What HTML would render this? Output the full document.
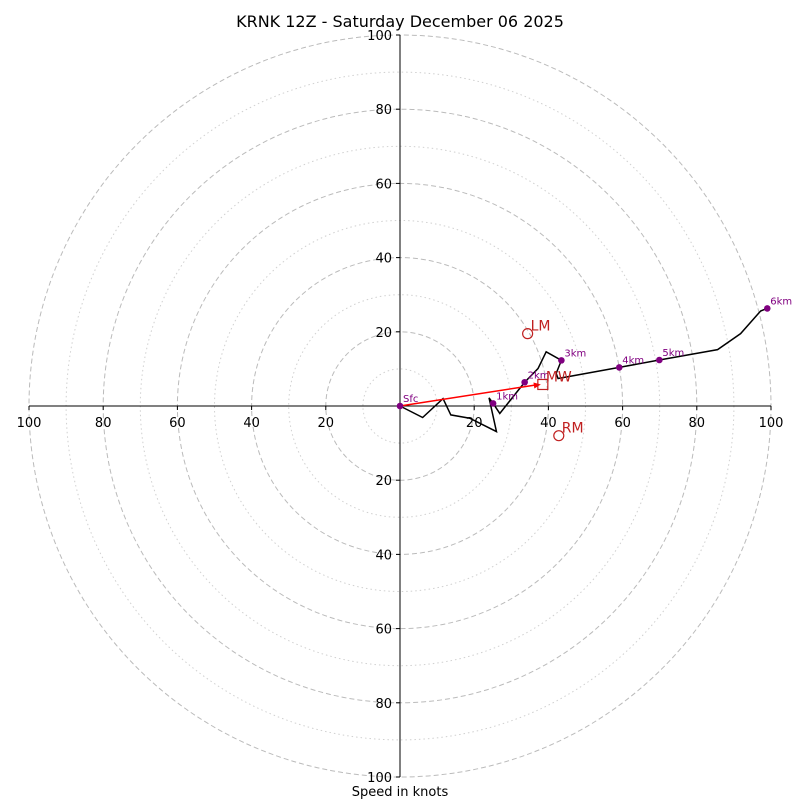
<!DOCTYPE html>
<html><head><meta charset="utf-8"><style>
body{margin:0;background:#fff;}
svg{display:block;font-family:"DejaVu Sans","Liberation Sans",sans-serif;}
</style></head><body>
<svg id="chart" width="800" height="800" viewBox="0 0 800 800" xmlns="http://www.w3.org/2000/svg">
<rect width="800" height="800" fill="#fff"/>
<text x="400" y="27" text-anchor="middle" font-size="16">KRNK 12Z - Saturday December 06 2025</text>
<text x="400" y="796" text-anchor="middle" font-size="13">Speed in knots</text>
<g id="rings"></g><g id="axes"></g><g id="trace"></g>
</svg>
<script>
const ringVals=[10,20,30,40,50,60,70,80,90,100];
const tickVals=[20,40,60,80,100];
const traceU=[0,6.1,11.6,13.7,18.8,26.0,24.0,25.1,26.9,33.6,37.2,39.4,43.5,42.1,42.6,59.1,69.9,85.6,91.8,97.2,99.0];
const traceV=[0,-3.1,2.0,-2.4,-3.3,-6.9,2.2,0.7,-2.0,6.4,10.1,14.6,12.3,8.8,7.4,10.4,12.4,15.2,19.5,25.6,26.3];
const markLabels=["Sfc","1km","2km","3km","4km","5km","6km"];
const markU=[0,25.1,33.6,43.5,59.1,69.9,99.0];
const markV=[0,0.7,6.4,12.3,10.4,12.4,26.3];
const motionLabels=["LM","RM","MW"];
const motionU=[34.4,42.8,38.5];
const motionV=[19.5,-8.0,5.8];
const CX=400,CY=406,R=371,MAX=100;
const sx=u=>CX+u/MAX*R, sy=v=>CY-v/MAX*R, sr=k=>k/MAX*R;
const NS="http://www.w3.org/2000/svg";
function mk(t,a,p){const e=document.createElementNS(NS,t);for(const k in a)e.setAttribute(k,a[k]);p.appendChild(e);return e;}
const rings=document.getElementById('rings');
ringVals.forEach(k=>{
 const c=mk('circle',{cx:CX,cy:CY,r:sr(k),fill:'none',stroke:k%20===0?'#bbb':'#d0d0d0','stroke-width':1,'stroke-dasharray':k%20===0?'5,3':'1.5,3'},rings);
 
 
});
const ax=document.getElementById('axes');
let l=mk('line',{x1:sx(-100),y1:CY,x2:sx(100),y2:CY,stroke:'#000','stroke-width':1},ax);


l=mk('line',{x1:CX,y1:sy(100),x2:CX,y2:sy(-100),stroke:'#000','stroke-width':1},ax);


tickVals.forEach(k=>{
 [-1,1].forEach(s=>{
  const x=sx(s*k);
  mk('line',{x1:x,y1:CY,x2:x,y2:CY+4,stroke:'#000'},ax);
  const t=mk('text',{x:x,y:CY+21,'text-anchor':'middle','font-size':13},ax);t.textContent=k;
  
  
  const y=sy(s*k);
  mk('line',{x1:CX-4,y1:y,x2:CX,y2:y,stroke:'#000'},ax);
  const t2=mk('text',{x:CX-8,y:y+5,'text-anchor':'end','font-size':13},ax);t2.textContent=k;
  
  
 });
});
const tr=document.getElementById('trace');
const pts=traceU.map((u,i)=>sx(u)+','+sy(traceV[i])).join(' ');
const pl=mk('polyline',{points:pts,fill:'none',stroke:'#000','stroke-width':1.5,'stroke-linejoin':'miter'},tr);


const ar=mk('line',{x1:sx(0),y1:sy(0),x2:sx(motionU[2])-4,y2:sy(motionV[2]),stroke:'#f00','stroke-width':1.5},tr);


const ang=Math.atan2(sy(motionV[2])-sy(0),sx(motionU[2])-sx(0));
const hx=sx(motionU[2])-2,hy=sy(motionV[2]);
const ah=mk('polygon',{points:`${hx},${hy} ${hx-7*Math.cos(ang)+3*Math.sin(ang)},${hy-7*Math.sin(ang)-3*Math.cos(ang)} ${hx-7*Math.cos(ang)-3*Math.sin(ang)},${hy-7*Math.sin(ang)+3*Math.cos(ang)}`,fill:'#f00'},tr);


markLabels.forEach((lab,i)=>{
 const x=sx(markU[i]),y=sy(markV[i]);
 const c=mk('circle',{cx:x,cy:y,r:3.3,fill:'#800080'},tr);
 
 
 const t=mk('text',{x:x+3,y:y-4,'font-size':10,fill:'#800080'},tr);t.textContent=lab;
 
 
});
motionLabels.forEach((lab,i)=>{
 const x=sx(motionU[i]),y=sy(motionV[i]);
 let m;
 if(lab==='MW'){m=mk('rect',{x:x-5,y:y-5,width:10,height:10,fill:'none',stroke:'#c02020','stroke-width':1.2},tr);}
 else{m=mk('circle',{cx:x,cy:y,r:5,fill:'none',stroke:'#c02020','stroke-width':1.2},tr);}
 
 
 const t=mk('text',{x:x+3,y:y-3,'font-size':14,fill:'#c02020'},tr);t.textContent=lab;
 
 
});
</script>
</body></html>
